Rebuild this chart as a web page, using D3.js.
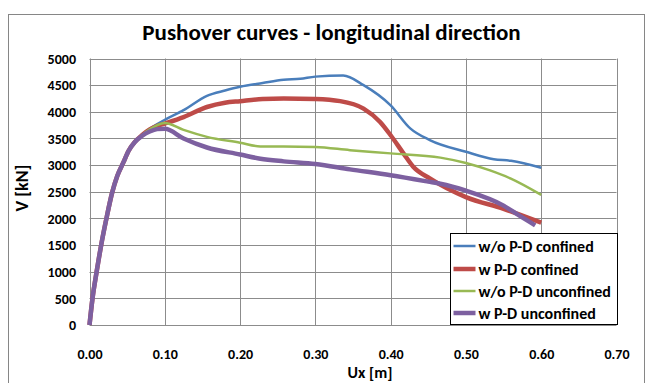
<!DOCTYPE html>
<html>
<head>
<meta charset="utf-8">
<script src="https://cdn.jsdelivr.net/npm/d3@7"></script>
<style>
  html, body { margin: 0; padding: 0; background: #fff; }
  svg text { font-family: "Carlito", "Liberation Sans Narrow", "Liberation Sans", Arial, sans-serif; font-weight: bold; fill: #000; }
</style>
</head>
<body>
<div id="chart"></div>
<script>
// Pushover curves (displacement in m, base shear in kN)
const xTicks = [0, 0.1, 0.2, 0.3, 0.4, 0.5, 0.6, 0.7];
const yTicks = [0, 500, 1000, 1500, 2000, 2500, 3000, 3500, 4000, 4500, 5000];

// shared elastic branch
const uElastic = [0, 0.004, 0.0095, 0.0155, 0.0225, 0.030, 0.037, 0.045, 0.052, 0.060];
const vElastic = [0, 500, 1000, 1500, 2000, 2480, 2800, 3050, 3270, 3430];

const uNoPdConf = [0.07, 0.08, 0.09, 0.10, 0.125, 0.156, 0.18, 0.20, 0.23, 0.258, 0.28, 0.30, 0.337, 0.364, 0.40, 0.426, 0.452, 0.50, 0.537, 0.56, 0.60];
const vNoPdConf = [3570, 3680, 3770, 3850, 4030, 4300, 4400, 4470, 4540, 4600, 4620, 4660, 4680, 4500, 4120, 3690, 3470, 3250, 3110, 3080, 2950];

const uPdConf = [0.07, 0.08, 0.09, 0.10, 0.125, 0.156, 0.18, 0.20, 0.23, 0.258, 0.30, 0.333, 0.364, 0.386, 0.40, 0.417, 0.43, 0.452, 0.50, 0.55, 0.60];
const vPdConf = [3565, 3670, 3735, 3780, 3900, 4090, 4170, 4200, 4240, 4250, 4240, 4200, 4060, 3810, 3560, 3220, 2970, 2750, 2400, 2180, 1920];

const uNoPdUnconf = [0.07, 0.08, 0.09, 0.10, 0.125, 0.156, 0.20, 0.227, 0.258, 0.30, 0.346, 0.40, 0.466, 0.50, 0.532, 0.559, 0.60];
const vNoPdUnconf = [3565, 3670, 3750, 3790, 3660, 3530, 3420, 3350, 3350, 3340, 3280, 3220, 3140, 3040, 2900, 2750, 2440];

const uPdUnconf = [0.07, 0.08, 0.09, 0.10, 0.125, 0.156, 0.20, 0.227, 0.258, 0.30, 0.346, 0.40, 0.45, 0.466, 0.50, 0.55, 0.57, 0.592];
const vPdUnconf = [3550, 3630, 3675, 3680, 3500, 3330, 3200, 3120, 3070, 3020, 2920, 2810, 2690, 2650, 2520, 2240, 2060, 1870];

const seriesNames = ['w/o P-D confined', 'w P-D confined', 'w/o P-D unconfined', 'w P-D unconfined'];
const seriesColors = ['#4a7ebb', '#be4b48', '#98b954', '#7d60a0'];
const seriesWidths = [2.5, 4.5, 2.5, 4.5];

const build = (us, vs) => uElastic.concat(us).map((u, i) => ({ u, v: vElastic.concat(vs)[i] }));
const series = [
  build(uNoPdConf, vNoPdConf),
  build(uPdConf, vPdConf),
  build(uNoPdUnconf, vNoPdUnconf),
  build(uPdUnconf, vPdUnconf)
];

const W = 650, H = 383;
const plot = { left: 89.5, right: 616.5, top: 58.5, bottom: 325 };

const x = d3.scaleLinear().domain([0, 0.7]).range([plot.left, plot.right]);
const y = d3.scaleLinear().domain([0, 5000]).range([plot.bottom, plot.top]);

const svg = d3.select('#chart').append('svg')
  .attr('width', W)
  .attr('height', H);

// outer chart frame
svg.append('rect')
  .attr('x', 8.5).attr('y', 14.5)
  .attr('width', 636).attr('height', 390)
  .attr('fill', '#fff')
  .attr('stroke', '#868686');

svg.append('text')
  .attr('x', 331.5).attr('y', 40)
  .attr('text-anchor', 'middle')
  .attr('font-size', 23)
  .text('Pushover curves - longitudinal direction');

// gridlines
svg.append('g').attr('class', 'grid')
  .selectAll('line').data(yTicks).enter().append('line')
  .attr('x1', plot.left).attr('x2', plot.right)
  .attr('y1', d => Math.round(y(d)) + 0.5).attr('y2', d => Math.round(y(d)) + 0.5)
  .attr('stroke', '#8c8c8c').attr('stroke-width', 1);

svg.append('g').attr('class', 'grid')
  .selectAll('line').data(xTicks).enter().append('line')
  .attr('y1', plot.top).attr('y2', plot.bottom)
  .attr('x1', d => Math.round(x(d)) + 0.5).attr('x2', d => Math.round(x(d)) + 0.5)
  .attr('stroke', '#8c8c8c').attr('stroke-width', 1);

// axes (labels only, Excel style)
const xAxis = d3.axisBottom(x).tickValues(xTicks).tickFormat(d3.format('.2f')).tickSize(0).tickPadding(0);
const gx = svg.append('g').attr('transform', `translate(0,${plot.bottom})`).call(xAxis);
gx.select('.domain').remove();
gx.selectAll('text').attr('font-size', 14).attr('dy', null).attr('y', 34);

const yAxis = d3.axisLeft(y).tickValues(yTicks).tickFormat(d3.format('d')).tickSize(0).tickPadding(0);
const gy = svg.append('g').attr('transform', `translate(76,0)`).call(yAxis);
gy.select('.domain').remove();
gy.selectAll('text').attr('font-size', 14).attr('dy', '0.34em').attr('x', 0);
gx.attr('font-family', null); gy.attr('font-family', null);
svg.selectAll('.tick text').attr('fill', '#000');

svg.append('text')
  .attr('x', 370).attr('y', 378)
  .attr('text-anchor', 'middle')
  .attr('font-size', 16)
  .text('Ux [m]');

svg.append('text')
  .attr('transform', 'translate(28,188) rotate(-90)')
  .attr('text-anchor', 'middle')
  .attr('font-size', 18)
  .text('V [kN]');

// curves
const line = d3.line().x(d => x(d.u)).y(d => y(d.v)).curve(d3.curveMonotoneX);
svg.append('g').selectAll('path').data(series).enter().append('path')
  .attr('d', line)
  .attr('fill', 'none')
  .attr('stroke', (d, i) => seriesColors[i])
  .attr('stroke-width', (d, i) => seriesWidths[i])
  .attr('stroke-linejoin', 'round');

// legend
const legend = svg.append('g').attr('transform', 'translate(450.5,233.5)');
legend.append('rect')
  .attr('width', 167).attr('height', 91)
  .attr('fill', '#fff').attr('stroke', '#000').attr('stroke-width', 1);
const rowY = [12.5, 35.5, 57.5, 79.5];
const items = legend.selectAll('g.item').data(seriesNames).enter().append('g')
  .attr('transform', (d, i) => `translate(0,${rowY[i]})`);
items.append('line')
  .attr('x1', 3).attr('x2', 25)
  .attr('stroke', (d, i) => seriesColors[i])
  .attr('stroke-width', (d, i) => seriesWidths[i]);
items.append('text')
  .attr('x', 28).attr('dy', '0.35em')
  .attr('font-size', 16)
  .text(d => d);
</script>
</body>
</html>
